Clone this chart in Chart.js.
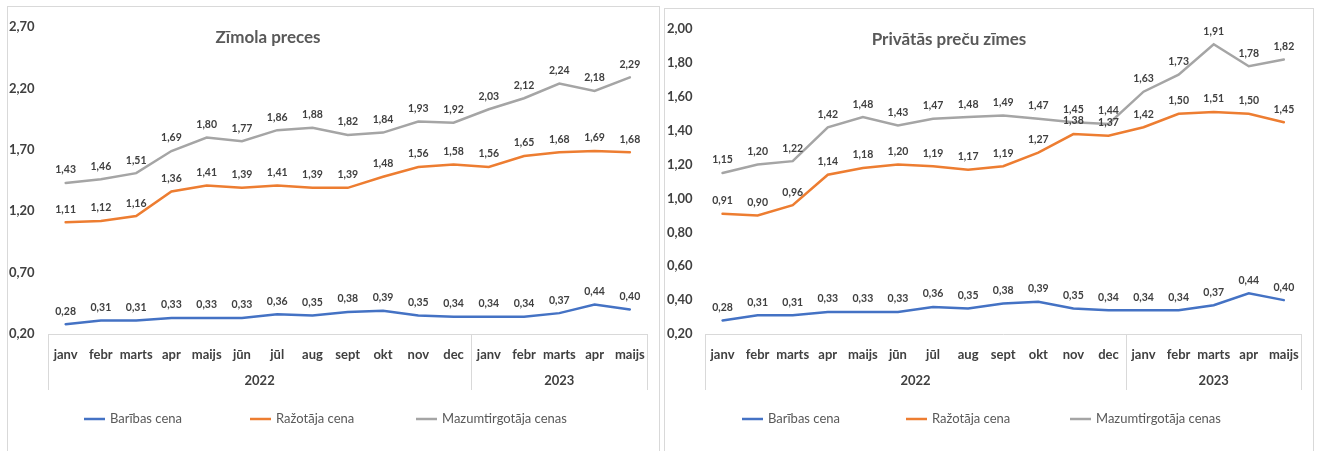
<!DOCTYPE html>
<html>
<head>
<meta charset="utf-8">
<script src="https://cdn.jsdelivr.net/npm/chart.js@4/dist/chart.umd.min.js"></script>
<style>
  body { margin: 0; background: #fff; width: 1318px; height: 451px; overflow: hidden; position: relative; }
  .panel { position: absolute; border: 1px solid #D9D9D9; box-sizing: border-box; }
  canvas { position: absolute; }
</style>
</head>
<body>
<div class="panel" style="left:7px;top:6px;width:653px;height:470px"></div>
<div class="panel" style="left:664px;top:8px;width:650px;height:470px"></div>
<canvas id="brand" width="650" height="444" style="left:8px;top:7px"></canvas>
<canvas id="private" width="646" height="442" style="left:666px;top:9px"></canvas>
<script>
const months = ['janv', 'febr', 'marts', 'apr', 'maijs', 'jūn', 'jūl', 'aug', 'sept', 'okt', 'nov', 'dec',
                'janv', 'febr', 'marts', 'apr', 'maijs'];
const years = ['2022', '2023'];
const monthsPerYear = [12, 5];
const seriesNames = ['Barības cena', 'Ražotāja cena', 'Mazumtirgotāja cenas'];
const seriesColors = ['#4472C4', '#ED7D31', '#A5A5A5'];

// Zīmola preces
const brandFeed = [0.28, 0.31, 0.31, 0.33, 0.33, 0.33, 0.36, 0.35, 0.38, 0.39, 0.35, 0.34, 0.34, 0.34, 0.37, 0.44, 0.40];
const brandProducer = [1.11, 1.12, 1.16, 1.36, 1.41, 1.39, 1.41, 1.39, 1.39, 1.48, 1.56, 1.58, 1.56, 1.65, 1.68, 1.69, 1.68];
const brandRetail = [1.43, 1.46, 1.51, 1.69, 1.80, 1.77, 1.86, 1.88, 1.82, 1.84, 1.93, 1.92, 2.03, 2.12, 2.24, 2.18, 2.29];
const brandTicks = [0.20, 0.70, 1.20, 1.70, 2.20, 2.70];

// Privātās preču zīmes
const privateFeed = [0.28, 0.31, 0.31, 0.33, 0.33, 0.33, 0.36, 0.35, 0.38, 0.39, 0.35, 0.34, 0.34, 0.34, 0.37, 0.44, 0.40];
const privateProducer = [0.91, 0.90, 0.96, 1.14, 1.18, 1.20, 1.19, 1.17, 1.19, 1.27, 1.38, 1.37, 1.42, 1.50, 1.51, 1.50, 1.45];
const privateRetail = [1.15, 1.20, 1.22, 1.42, 1.48, 1.43, 1.47, 1.48, 1.49, 1.47, 1.45, 1.44, 1.63, 1.73, 1.91, 1.78, 1.82];
const privateTicks = [0.20, 0.40, 0.60, 0.80, 1.00, 1.20, 1.40, 1.60, 1.80, 2.00];

const FONT = 'Lato, "Open Sans", sans-serif';
const fmt = v => Number(v).toFixed(2).replace('.', ',');

// labels above points, year row under the months, title and legend
const excelLook = {
  id: 'excelLook',
  afterDatasetsDraw(chart) {
    const ctx = chart.ctx;
    ctx.save();
    ctx.font = 'bold 10.5px ' + FONT;
    ctx.fillStyle = '#404040';
    ctx.textAlign = 'center';
    ctx.textBaseline = 'middle';
    chart.data.datasets.forEach((ds, i) => {
      chart.getDatasetMeta(i).data.forEach((pt, j) => {
        ctx.fillText(fmt(ds.data[j]), pt.x, pt.y - 13);
      });
    });
    ctx.restore();
  },
  afterDraw(chart, args, opts) {
    const ctx = chart.ctx;
    const x = chart.scales.x;
    const area = chart.chartArea;
    ctx.save();

    // year groups
    ctx.strokeStyle = '#D9D9D9';
    ctx.lineWidth = 1;
    ctx.font = 'bold 13px ' + FONT;
    ctx.fillStyle = '#404040';
    ctx.textAlign = 'center';
    ctx.textBaseline = 'middle';
    let start = 0;
    const edge = i => i <= 0 ? x.left : i >= months.length ? x.right
      : (x.getPixelForValue(i - 1) + x.getPixelForValue(i)) / 2;
    const vline = px => {
      ctx.beginPath();
      ctx.moveTo(Math.round(px) + 0.5, area.bottom);
      ctx.lineTo(Math.round(px) + 0.5, area.bottom + 56);
      ctx.stroke();
    };
    vline(edge(0));
    years.forEach((yr, k) => {
      const end = start + monthsPerYear[k];
      vline(edge(end));
      ctx.fillText(yr, (edge(start) + edge(end)) / 2, area.bottom + 47);
      start = end;
    });

    // title
    ctx.font = 'bold 17px ' + FONT;
    ctx.fillStyle = '#595959';
    ctx.fillText(opts.title, opts.titleX, opts.titleY);

    // legend
    ctx.font = '13px ' + FONT;
    ctx.textAlign = 'left';
    ctx.lineWidth = 2.5;
    chart.data.datasets.forEach((ds, i) => {
      const lx = opts.legendX + i * opts.legendSlot;
      ctx.strokeStyle = ds.borderColor;
      ctx.beginPath();
      ctx.moveTo(lx, opts.legendY);
      ctx.lineTo(lx + 21, opts.legendY);
      ctx.stroke();
      ctx.fillStyle = '#595959';
      ctx.fillText(ds.label, lx + 26, opts.legendY);
    });
    ctx.restore();
  }
};

function makeChart(id, series, ticks, look, axisWidth) {
  return new Chart(document.getElementById(id), {
    type: 'line',
    data: {
      labels: months,
      datasets: series.map((data, i) => ({
        label: seriesNames[i],
        data: data,
        borderColor: seriesColors[i],
        backgroundColor: seriesColors[i],
        borderWidth: 2.5,
        pointRadius: 0,
        tension: 0,
        borderCapStyle: 'round'
      }))
    },
    options: {
      responsive: false,
      animation: false,
      layout: { padding: { left: 1, right: 8, top: 20, bottom: 0 } },
      plugins: {
        legend: { display: false },
        tooltip: { enabled: false },
        excelLook: look
      },
      scales: {
        x: {
          offset: true,
          grid: { display: false, drawTicks: false },
          border: { display: true, color: '#D9D9D9', width: 1 },
          ticks: { font: { family: FONT, size: 13, weight: 'bold' }, color: '#404040', padding: 13, maxRotation: 0, autoSkip: false },
          afterFit: s => { s.height = 117; }
        },
        y: {
          min: ticks[0],
          max: ticks[ticks.length - 1],
          grid: { display: false, drawTicks: false },
          border: { display: false },
          afterBuildTicks: s => { s.ticks = ticks.map(v => ({ value: v })); },
          ticks: { callback: fmt, font: { family: FONT, size: 13, weight: 'bold' }, color: '#404040', crossAlign: 'far', padding: 0 },
          afterFit: s => { s.width = axisWidth; }
        }
      }
    },
    plugins: [excelLook]
  });
}

makeChart('brand', [brandFeed, brandProducer, brandRetail], brandTicks,
  { title: 'Zīmola preces', titleX: 260, titleY: 31, legendX: 76, legendSlot: 166, legendY: 412 }, 39);
makeChart('private', [privateFeed, privateProducer, privateRetail], privateTicks,
  { title: 'Privātās preču zīmes', titleX: 283, titleY: 31, legendX: 76, legendSlot: 164, legendY: 410 }, 38);
</script>
</body>
</html>
